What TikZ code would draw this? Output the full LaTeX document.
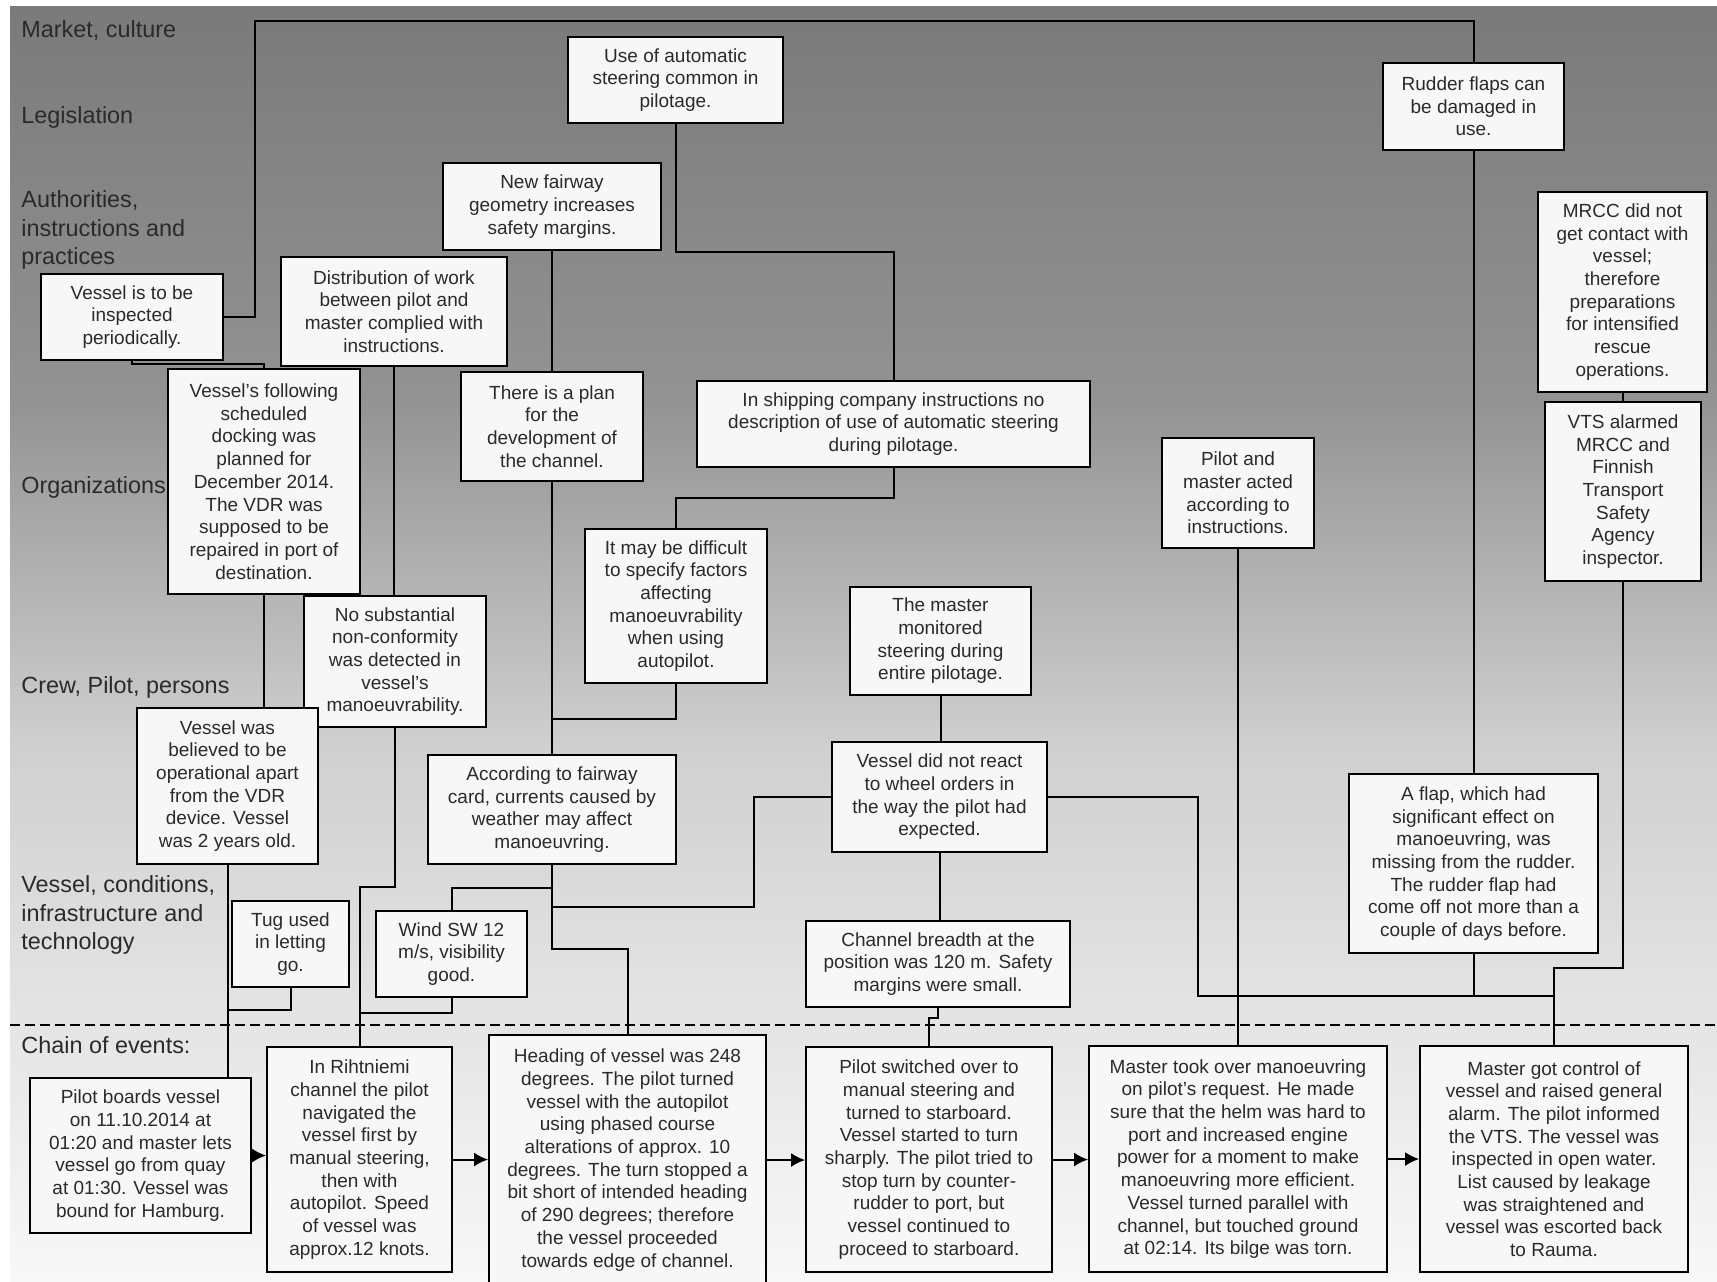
\documentclass[tikz,border=0pt]{standalone}
\usepackage{fontspec}
\setmainfont{Liberation Sans}
\usetikzlibrary{arrows.meta}
\definecolor{boxfill}{HTML}{F7F7F7}
\definecolor{txt}{HTML}{2A2A2A}
\definecolor{bgA}{HTML}{7A7A7A}
\definecolor{bgB}{HTML}{939393}
\definecolor{bgC}{HTML}{D0D0D0}
\definecolor{bgD}{HTML}{F8F8F8}
\newcommand\mybox[6]{\node[box, minimum width={(#4-#2)*0.5pt}, minimum height={(#5-#3)*0.5pt}] (#1) at ({(#2+#4)/2},{(#3+#5)/2}) {#6};}
\begin{document}
\begin{tikzpicture}[x=0.5pt,y=-0.5pt,
  box/.style={draw=black, line width=0.9pt, fill=boxfill, align=center, inner sep=1pt, font=\fontsize{9.5}{11.35}\selectfont, text=txt},
  conn/.style={line width=1pt, draw=black},
  lbl/.style={anchor=west, align=left, inner sep=0pt, font=\fontsize{11.7}{14.2}\selectfont, text=txt},
  arr/.style={conn, -{Latex[length=7pt,width=7pt]}}]
\useasboundingbox (0,0) rectangle (1717,1281);
\clip (0,0) rectangle (1717,1281);
% background
\fill[white] (0,0) rectangle (1717,1281);
\shade[top color=bgA, bottom color=bgB] (10,6) rectangle (1717,401);
\shade[top color=bgB, bottom color=bgC] (10,400) rectangle (1717,751);
\shade[top color=bgC, bottom color=bgD] (10,750) rectangle (1717,1281);
\draw[line width=1pt, dash pattern=on 5pt off 2.5pt] (10,1025) -- (1717,1025);
% level labels
\node[lbl] (l1) at (21,30.5) {Market, culture};
\node[lbl] (l2) at (21,117.5) {Legislation};
\node[lbl] (l3) at (21,230) {Authorities,\\instructions and\\practices};
\node[lbl] (l4) at (21,487) {Organizations};
\node[lbl] (l5) at (21,687) {Crew, Pilot, persons};
\node[lbl] (l6) at (21,915) {Vessel, conditions,\\infrastructure and\\technology};
\node[lbl] (l7) at (21,1045) {Chain of events:};
% boxes
\mybox{auto}{568}{37}{783}{123}{Use of automatic\\steering common in\\pilotage.}
\mybox{rudder}{1383}{63}{1564}{150}{Rudder flaps can\\be damaged in\\use.}
\mybox{fair}{443}{163}{661}{250}{New fairway\\geometry increases\\safety margins.}
\mybox{insp}{41}{274}{223}{360}{Vessel is to be\\inspected\\periodically.}
\mybox{dist}{281}{257}{507}{366}{Distribution of work\\between pilot and\\master complied with\\instructions.}
\mybox{mrcc}{1538}{192}{1707}{392}{MRCC did not\\get contact with\\vessel;\\therefore\\preparations\\for intensified\\rescue\\operations.}
\mybox{vfol}{168}{369}{360}{594}{Vessel’s following\\scheduled\\docking was\\planned for\\December 2014.\\The VDR was\\supposed to be\\repaired in port of\\destination.}
\mybox{plan}{461}{372}{643}{481}{There is a plan\\for the\\development of\\the channel.}
\mybox{ship}{697}{381}{1090}{467}{In shipping company instructions no\\description of use of automatic steering\\during pilotage.}
\mybox{vts}{1545}{402}{1701}{581}{VTS alarmed\\MRCC and\\Finnish\\Transport\\Safety\\Agency\\inspector.}
\mybox{pm}{1162}{438}{1314}{548}{Pilot and\\master acted\\according to\\instructions.}
\mybox{diff}{585}{529}{767}{683}{It may be difficult\\to specify factors\\affecting\\manoeuvrability\\when using\\autopilot.}
\mybox{mast}{850}{587}{1031}{695}{The master\\monitored\\steering during\\entire pilotage.}
\mybox{nosub}{304}{596}{486}{727}{No substantial\\non-conformity\\was detected in\\vessel’s\\manoeuvrability.}
\mybox{vwb}{137}{708}{318}{864}{Vessel was\\believed to be\\operational apart\\from the VDR\\device. Vessel\\was 2 years old.}
\mybox{acc}{428}{755}{676}{864}{According to fairway\\card, currents caused by\\weather may affect\\manoeuvring.}
\mybox{vdnr}{832}{742}{1047}{852}{Vessel did not react\\to wheel orders in\\the way the pilot had\\expected.}
\mybox{flap}{1349}{774}{1598}{953}{A flap, which had\\significant effect on\\manoeuvring, was\\missing from the rudder.\\The rudder flap had\\come off not more than a\\couple of days before.}
\mybox{tug}{232}{901}{349}{987}{Tug used\\in letting\\go.}
\mybox{wind}{376}{911}{527}{997}{Wind SW 12\\m/s, visibility\\good.}
\mybox{chan}{806}{921}{1070}{1007}{Channel breadth at the\\position was 120 m. Safety\\margins were small.}
\mybox{boards}{30}{1078}{251}{1233}{Pilot boards vessel\\on 11.10.2014 at\\01:20 and master lets\\vessel go from quay\\at 01:30. Vessel was\\bound for Hamburg.}
\mybox{riht}{267}{1047}{452}{1272}{In Rihtniemi\\channel the pilot\\navigated the\\vessel first by\\manual steering,\\then with\\autopilot. Speed\\of vessel was\\approx.12 knots.}
\mybox{head}{489}{1035}{766}{1285}{Heading of vessel was 248\\degrees. The pilot turned\\vessel with the autopilot\\using phased course\\alterations of approx. 10\\degrees. The turn stopped a\\bit short of intended heading\\of 290 degrees; therefore\\the vessel proceeded\\towards edge of channel.}
\mybox{sw}{806}{1047}{1052}{1272}{Pilot switched over to\\manual steering and\\turned to starboard.\\Vessel started to turn\\sharply. The pilot tried to\\stop turn by counter-\\rudder to port, but\\vessel continued to\\proceed to starboard.}
\mybox{took}{1089}{1046}{1387}{1272}{Master took over manoeuvring\\on pilot’s request. He made\\sure that the helm was hard to\\port and increased engine\\power for a moment to make\\manoeuvring more efficient.\\Vessel turned parallel with\\channel, but touched ground\\at 02:14. Its bilge was torn.}
\mybox{got}{1420}{1046}{1688}{1272}{Master got control of\\vessel and raised general\\alarm. The pilot informed\\the VTS. The vessel was\\inspected in open water.\\List caused by leakage\\was straightened and\\vessel was escorted back\\to Rauma.}
% junction coordinates
\coordinate (j1) at (552,719);
\coordinate (j2) at (227.5,1010);
\coordinate (j3) at (359.5,1013);
\coordinate (j4) at (552,888);
\coordinate (j5) at (552,907);
\coordinate (j6) at (1473.5,996);
\coordinate (j7) at (1554,996);
% connectors
\draw[conn] (insp.east) -| (255,21) -| (rudder.north);
\draw[conn] (insp.south) |- (264,364) -- (vfol.north);
\draw[conn] (auto.south) |- (893.5,252) -- (ship.north);
\draw[conn] (fair.south) -- (fair.south |- plan.north);
\draw[conn] (plan.south) -- (plan.south |- acc.north);
\draw[conn] (ship.south) |- (676,498) -- (diff.north);
\draw[conn] (diff.south) |- (j1);
\draw[conn] (dist.south) -- (dist.south |- nosub.north);
\draw[conn] (vfol.south) -- (vfol.south |- vwb.north);
\draw[conn] (vwb.south) -- (vwb.south |- boards.north);
\draw[conn] (tug.south) |- (j2);
\draw[conn] (nosub.south) |- (359.5,887) -- (riht.north);
\draw[conn] (wind.south) |- (j3);
\draw[conn] (wind.north) |- (j4);
\draw[conn] (acc.south) |- (627.5,949) -- (head.north);
\draw[conn] (j5) -| (754,797) -- (vdnr.west);
\draw[conn] (mast.south) -- (mast.south |- vdnr.north);
\draw[conn] (vdnr.south) -- (vdnr.south |- chan.north);
\draw[conn] (chan.south) |- (929,1018) -- (sw.north);
\draw[conn] (vdnr.east) -| (1198,996) -| (got.north);
\draw[conn] (pm.south) -- (pm.south |- took.north);
\draw[conn] (rudder.south) -- (rudder.south |- flap.north);
\draw[conn] (flap.south) -- (j6);
\draw[conn] (vts.south) |- (1554,968) -- (j7);
\draw[conn] (mrcc.south) -- (mrcc.south |- vts.north);
% chain arrows
\draw[arr] (boards.east) -- (boards.east -| riht.west);
\draw[arr] (riht.east) -- (riht.east -| head.west);
\draw[arr] (head.east) -- (head.east -| sw.west);
\draw[arr] (sw.east) -- (sw.east -| took.west);
\draw[arr] (took.east) -- (took.east -| got.west);
\end{tikzpicture}
\end{document}
